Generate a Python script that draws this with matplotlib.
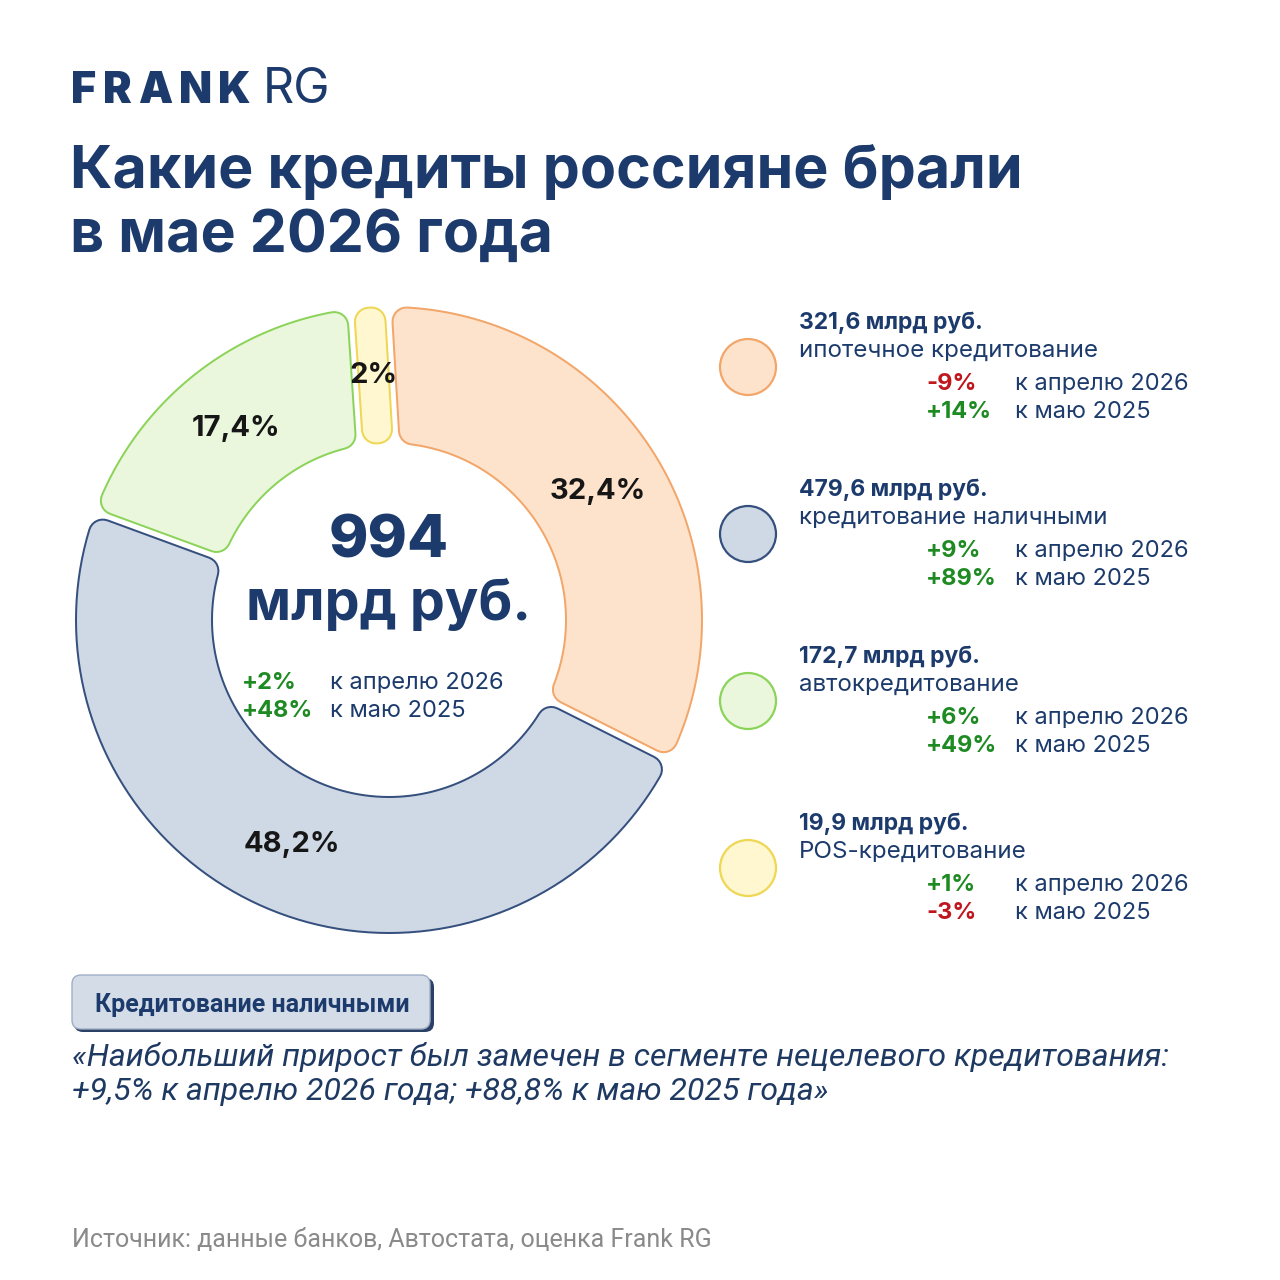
import numpy as np
import matplotlib
matplotlib.use('Agg')
import matplotlib.pyplot as plt
import matplotlib.patheffects as pe
from matplotlib.patches import Polygon, Circle, FancyBboxPatch
from matplotlib import font_manager

# ---- data ----
segments = ['ипотечное кредитование', 'кредитование наличными',
            'автокредитование', 'POS-кредитование']
amounts = [321.6, 479.6, 172.7, 19.9]          # млрд руб.
shares = [32.4, 48.2, 17.4, 2.0]               # %
mom = [-9, 9, 6, 1]                            # к апрелю 2026, %
yoy = [14, 89, 49, -3]                         # к маю 2025, %
total = 994
total_mom = 2
total_yoy = 48

faces = ['#FDE3CB', '#CFD8E5', '#EAF7DD', '#FEF7CF']
edges = ['#F2A66A', '#35507E', '#8CD35A', '#EFD653']

NAVY = '#1C3B6C'
GREEN = '#1E8A22'
RED = '#C0161D'

names = {f.name for f in font_manager.fontManager.ttflist}
MAIN = 'Inter' if 'Inter' in names else 'DejaVu Sans'
NARROW = 'Liberation Sans Narrow' if 'Liberation Sans Narrow' in names else 'Roboto'
plt.rcParams['font.family'] = [MAIN, 'DejaVu Sans']


def fmt(v):
    s = f"{v:.1f}".rstrip('0').rstrip('.')
    return s.replace('.', ',')


def sgn(v):
    return f"+{v}%" if v > 0 else f"-{abs(v)}%"


fig = plt.figure(figsize=(12.8, 12.8), dpi=100)
fig.patch.set_facecolor('white')

# pixel axes for all texts (y goes down)
ax = fig.add_axes([0, 0, 1, 1])
ax.set_xlim(0, 1280)
ax.set_ylim(1280, 0)
ax.axis('off')
renderer = fig.canvas.get_renderer()

# ---- header ----
# FRANK is letter-spaced: place letter by letter
x = 71
for ch in 'FRANK':
    t = ax.text(x, 103, ch, fontsize=31, fontweight='black', color=NAVY, va='baseline')
    bb = t.get_window_extent(renderer)
    x += bb.width + 6.5
ax.text(263, 103, 'RG', fontsize=35, fontweight='normal', color=NAVY, va='baseline')
ax.text(70, 188, 'Какие кредиты россияне брали', fontsize=42.5, fontweight='bold',
        color=NAVY, va='baseline')
ax.text(70, 252, 'в мае 2026 года', fontsize=42.5, fontweight='bold',
        color=NAVY, va='baseline')

# ---- donut ----
CX, CY = 389, 620
R_OUT, R_IN = 312, 178
C = 13          # corner radius, px
GAP = 9         # gap between pieces, px
MINW = 2        # min inner path width of a piece, px

dax = fig.add_axes([(CX - 330) / 1280, (1280 - CY - 330) / 1280, 660 / 1280, 660 / 1280])

wedges, _, pct = dax.pie(shares, radius=R_OUT, startangle=90, counterclock=False,
                         wedgeprops=dict(width=R_OUT - R_IN),
                         autopct=lambda p: fmt(p) + '%', pctdistance=0.785,
                         textprops=dict(fontsize=21, fontweight='bold', color='#161616'))
dax.set_xlim(-330, 330)
dax.set_ylim(-330, 330)
dax.set_aspect('equal')
dax.axis('off')

ro, ri = R_OUT - C, R_IN + C
g = GAP / 2 + C
n = len(wedges)


def spans(r):
    # clockwise pieces: start = theta2, end = theta1
    d = np.degrees(np.arcsin(g / r))
    dmin = np.degrees(MINW / r)
    dsep = np.degrees((2 * C + GAP) / r)
    res, clamped = [], []
    for w in wedges:
        s, e = w.theta2 - d, w.theta1 + d
        if s - e < dmin:
            m = (w.theta1 + w.theta2) / 2
            s, e = m + dmin / 2, m - dmin / 2
            clamped.append(True)
        else:
            clamped.append(False)
        res.append([s, e])
    for i in range(n):
        j = (i + 1) % n
        off = 360 if j == 0 else 0
        if res[i][1] - (res[j][0] - off) < dsep:
            if clamped[i]:
                res[j][0] = res[i][1] - dsep + off
            elif clamped[j]:
                res[i][1] = res[j][0] - off + dsep
    return res


sp_o, sp_i = spans(ro), spans(ri)
for k, (w, fc, ec) in enumerate(zip(wedges, faces, edges)):
    w.set_visible(False)
    ao = np.radians(np.linspace(sp_o[k][0], sp_o[k][1], 90))
    ai = np.radians(np.linspace(sp_i[k][1], sp_i[k][0], 90))
    pts = np.vstack([np.column_stack([ro * np.cos(ao), ro * np.sin(ao)]),
                     np.column_stack([ri * np.cos(ai), ri * np.sin(ai)])])
    poly = Polygon(pts, closed=True, facecolor=fc, edgecolor=fc, linewidth=0, zorder=1)
    poly.set_path_effects([
        pe.Stroke(linewidth=(2 * C + 4) * 0.72, foreground=ec, joinstyle='round'),
        pe.Stroke(linewidth=(2 * C) * 0.72, foreground=fc, joinstyle='round'),
        pe.Normal()])
    dax.add_patch(poly)

for t in pct:
    t.set_zorder(5)

# centre text
ax.text(CX, 558, f"{total}", fontsize=43, fontweight='heavy', color=NAVY,
        ha='center', va='baseline')
ax.text(CX, 620, 'млрд руб.', fontsize=40, fontweight='bold', color=NAVY,
        ha='center', va='baseline')
ax.text(242, 689, sgn(total_mom), fontsize=17, fontweight='bold',
        color=GREEN if total_mom > 0 else RED, va='baseline')
ax.text(330, 689, 'к апрелю 2026', fontsize=17, color=NAVY, va='baseline')
ax.text(242, 717, sgn(total_yoy), fontsize=17, fontweight='bold',
        color=GREEN if total_yoy > 0 else RED, va='baseline')
ax.text(330, 717, 'к маю 2025', fontsize=17, color=NAVY, va='baseline')

# ---- legend ----
for i, (name, amt, m, y) in enumerate(zip(segments, amounts, mom, yoy)):
    y0 = 329 + i * 167
    ax.add_patch(Circle((748, y0 + 38), 28, facecolor=faces[i], edgecolor=edges[i],
                        linewidth=1.6))
    ax.text(799, y0, fmt(amt) + ' млрд руб.', fontsize=16.5, fontweight='bold',
            color=NAVY, va='baseline')
    ax.text(799, y0 + 28, name, fontsize=17.4, color=NAVY, va='baseline')
    ax.text(926, y0 + 61, sgn(m), fontsize=17, fontweight='bold',
            color=GREEN if m > 0 else RED, va='baseline')
    ax.text(1015, y0 + 61, 'к апрелю 2026', fontsize=17, color=NAVY, va='baseline')
    ax.text(926, y0 + 89, sgn(y), fontsize=17, fontweight='bold',
            color=GREEN if y > 0 else RED, va='baseline')
    ax.text(1015, y0 + 89, 'к маю 2025', fontsize=17, color=NAVY, va='baseline')

# ---- tag ----
ax.add_patch(FancyBboxPatch((74, 978), 360, 54, boxstyle='round,pad=0,rounding_size=9',
                            facecolor='#2A4066', edgecolor='none'))
ax.add_patch(FancyBboxPatch((72, 975), 358, 54, boxstyle='round,pad=0,rounding_size=9',
                            facecolor='#D4DCE8', edgecolor='#9FAEC4', linewidth=1.0))
ax.text(95, 1012, 'Кредитование наличными', fontsize=18, fontweight='bold',
        color=NAVY, va='baseline', family=[NARROW, 'DejaVu Sans'])

# ---- quote ----
ax.text(72, 1066, '«Наибольший прирост был замечен в сегменте нецелевого кредитования:',
        fontsize=23, style='italic', color='#1F3A62', va='baseline',
        family=['Roboto', 'DejaVu Sans'])
ax.text(72, 1100, '+9,5% к апрелю 2026 года; +88,8% к маю 2025 года»',
        fontsize=23, style='italic', color='#1F3A62', va='baseline',
        family=['Roboto', 'DejaVu Sans'])

# ---- source ----
ax.text(72, 1247, 'Источник: данные банков, Автостата, оценка Frank RG',
        fontsize=18, color='#8A8A8A', va='baseline', family=[NARROW, 'DejaVu Sans'])

fig.savefig('out.png', dpi=100, facecolor='white')
